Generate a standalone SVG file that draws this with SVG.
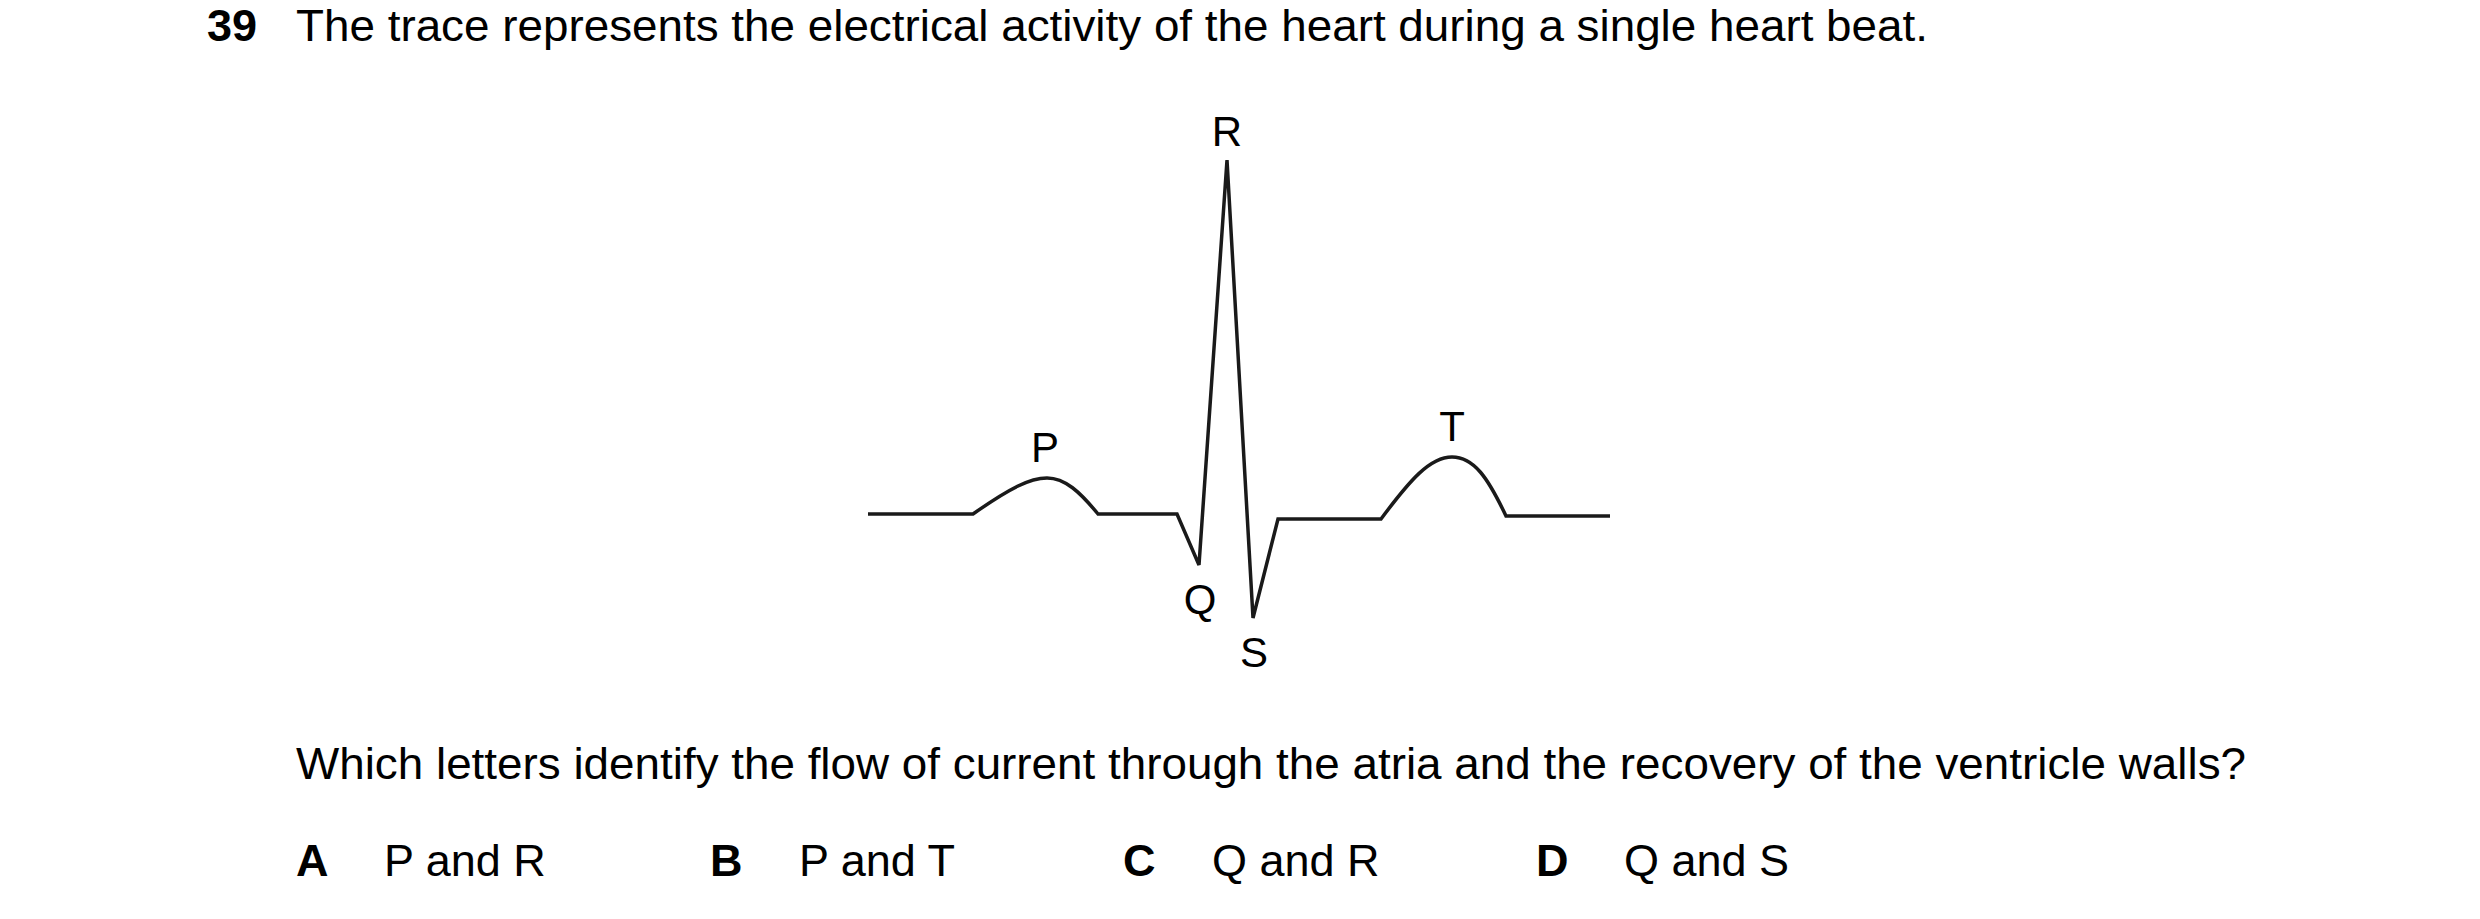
<svg xmlns="http://www.w3.org/2000/svg" width="2480" height="919" viewBox="0 0 2480 919">
<style>
text{font-family:"Liberation Sans",Arial,sans-serif;font-size:45px;fill:#000}
.b{font-weight:bold}
.l{font-size:42px;text-anchor:middle}
.tr{fill:none;stroke:#1a1a1a;stroke-width:3.5;stroke-linejoin:miter}
</style>
<rect width="2480" height="919" fill="#fff"/>
<text x="207" y="41" class="b">39</text>
<text x="296" y="41" textLength="1632" lengthAdjust="spacingAndGlyphs">The trace represents the electrical activity of the heart during a single heart beat.</text>
<g id="connectors">
<path class="tr" d="M868,514 L973,514 C1010,488 1030,478 1047,478 C1065,478 1080,492 1098,514 L1177,514 L1199,565 L1227,160 L1253,618 L1278,519 L1381,519 C1410,480 1430,457 1452,457 C1474,457 1488,478 1506,516 L1610,516"/>
</g>
<g id="labels">
<text x="1227" y="146" class="l">R</text>
<text x="1045" y="462" class="l">P</text>
<text x="1452" y="441" class="l">T</text>
<text x="1200" y="614" class="l">Q</text>
<text x="1254" y="667" class="l">S</text>
</g>
<text x="296" y="779" textLength="1950" lengthAdjust="spacingAndGlyphs">Which letters identify the flow of current through the atria and the recovery of the ventricle walls?</text>
<text x="296" y="876" class="b">A</text><text x="384" y="876">P and R</text>
<text x="710" y="876" class="b">B</text><text x="799" y="876">P and T</text>
<text x="1123" y="876" class="b">C</text><text x="1212" y="876">Q and R</text>
<text x="1536" y="876" class="b">D</text><text x="1624" y="876">Q and S</text>
</svg>
